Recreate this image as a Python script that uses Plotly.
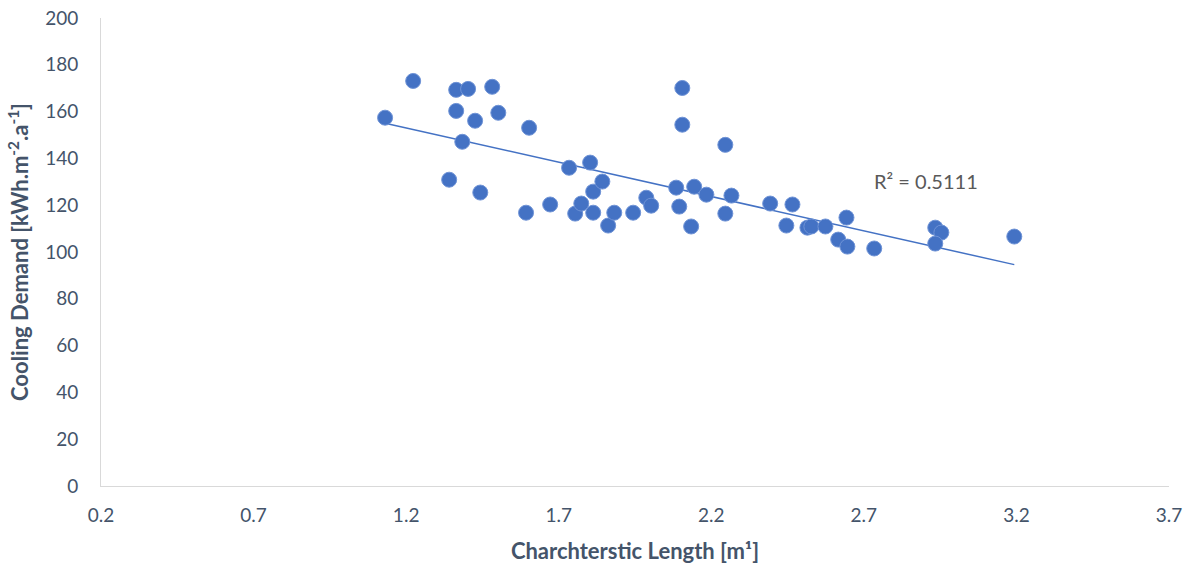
import numpy as np
import plotly.graph_objects as go

char_length = [1.131, 1.223, 1.364, 1.403, 1.482, 1.364, 1.426, 1.502, 1.603, 1.384,
               1.341, 1.443, 1.593, 1.672, 1.734, 1.803, 1.754, 1.774, 1.813, 1.843,
               1.813, 1.862, 1.882, 1.944, 1.987, 2.003, 2.105, 2.105, 2.085, 2.095,
               2.134, 2.144, 2.184, 2.246, 2.246, 2.266, 2.393, 2.446, 2.466, 2.515,
               2.528, 2.574, 2.616, 2.643, 2.646, 2.734, 2.934, 2.954, 2.934, 3.193]
cooling_demand = [157.4, 173.1, 169.3, 169.7, 170.6, 160.3, 156.1, 159.5, 153.1, 147.1,
                  130.9, 125.4, 116.8, 120.3, 136.0, 138.2, 116.4, 120.7, 125.8, 130.1,
                  116.8, 111.3, 116.8, 116.8, 123.2, 119.8, 170.1, 154.4, 127.5, 119.4,
                  110.9, 127.9, 124.5, 145.8, 116.4, 124.1, 120.7, 111.3, 120.3, 110.4,
                  110.9, 110.9, 105.3, 114.7, 102.3, 101.5, 110.4, 108.3, 103.6, 106.6]
x_ticks = [0.2, 0.7, 1.2, 1.7, 2.2, 2.7, 3.2, 3.7]
y_ticks = [0, 20, 40, 60, 80, 100, 120, 140, 160, 180, 200]
r2_label = "R² = 0.5111"

blue = "#4472C4"
text_col = "#44546A"
font_family = "Lato, 'Open Sans', sans-serif"

xs = np.array(char_length)
ys = np.array(cooling_demand)
slope, intercept = np.polyfit(xs, ys, 1)
trend_x = np.array([xs.min(), xs.max()])
trend_y = slope * trend_x + intercept

fig = go.Figure()
fig.add_trace(go.Scatter(
    x=trend_x, y=trend_y, mode="lines",
    line=dict(color=blue, width=1.5), hoverinfo="skip", showlegend=False))
fig.add_trace(go.Scatter(
    x=char_length, y=cooling_demand, mode="markers",
    marker=dict(size=15, color=blue, line=dict(color="#6F93D6", width=1)),
    showlegend=False))

fig.add_annotation(x=2.905, y=130.5, text=r2_label, showarrow=False,
                   xanchor="center", yanchor="middle",
                   font=dict(size=20, color="#595959", family=font_family))

fig.update_layout(
    width=1193, height=569,
    margin=dict(l=101, r=24, t=18, b=83),
    paper_bgcolor="white", plot_bgcolor="white",
    font=dict(family=font_family, size=19, color=text_col),
    xaxis=dict(range=[0.2, 3.7], tickvals=x_ticks, ticktext=[f"{v:.1f}" for v in x_ticks],
               showgrid=False, zeroline=False, showline=True, linecolor="#D9D9D9",
               linewidth=1, ticks="", tickfont=dict(size=19, color=text_col),
               ticklabelstandoff=12, automargin=False,
               title=dict(text="<b>Charchterstic Length [m¹]</b>", standoff=18,
                          font=dict(size=22, color=text_col))),
    yaxis=dict(range=[0, 200], tickvals=y_ticks, showgrid=False, zeroline=False,
               showline=True, linecolor="#D9D9D9", linewidth=1, ticks="",
               tickfont=dict(size=19, color=text_col), ticklabelstandoff=18,
               automargin=False,
               title=dict(text="<b>Cooling Demand [kWh.m<sup>-2</sup>.a<sup>-1</sup>]</b>",
                          standoff=10, font=dict(size=22, color=text_col))),
)

fig.write_html("out.html", config={"displayModeBar": False},
               post_script="document.body.style.margin='0';")
